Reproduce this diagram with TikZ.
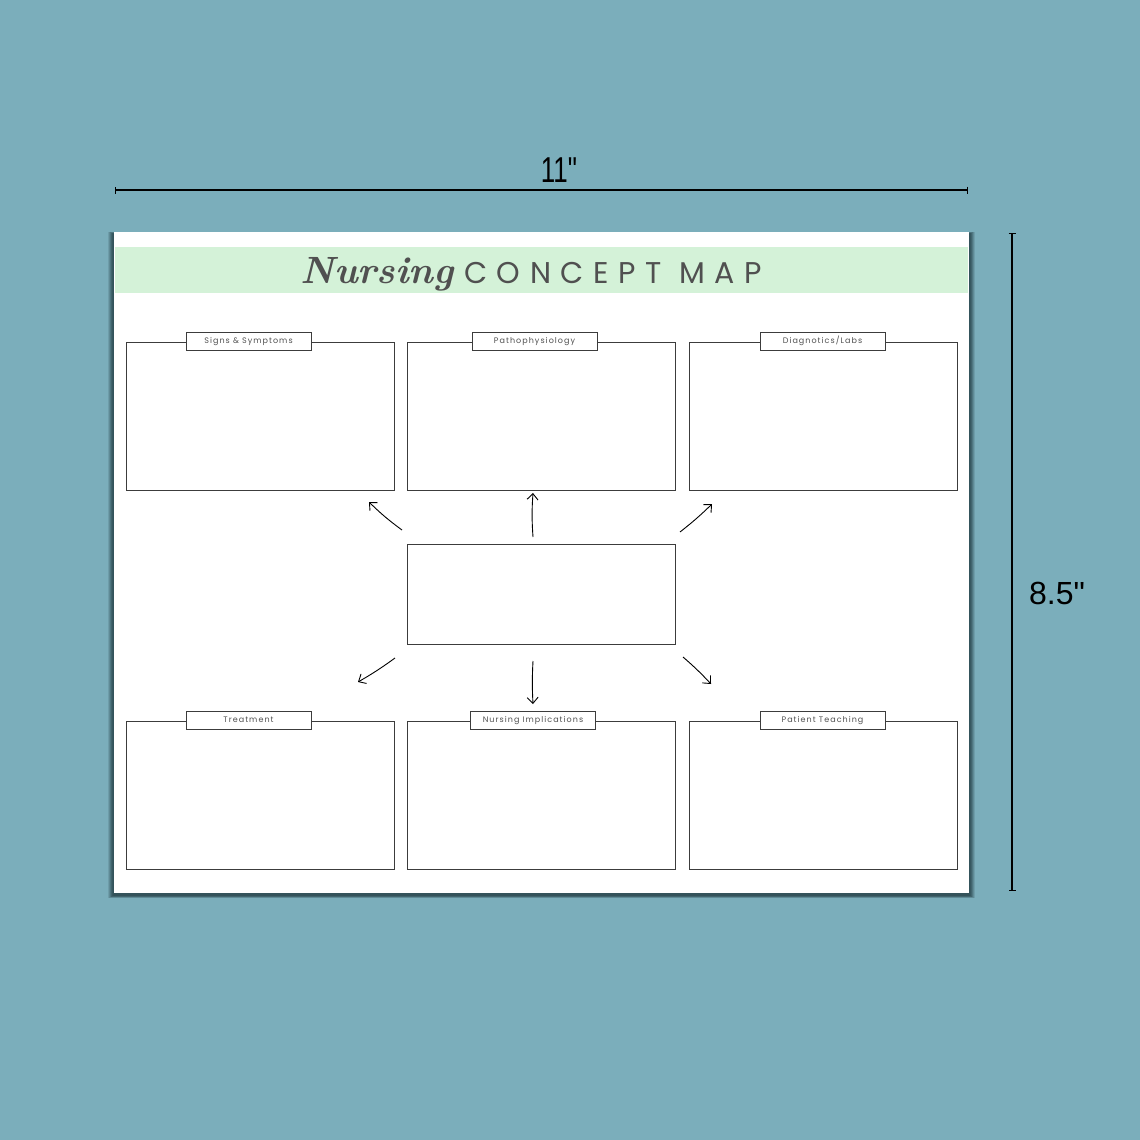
\documentclass[tikz,border=0pt]{standalone}
\usepackage{fontspec}
\usepackage{graphicx}
\usetikzlibrary{arrows.meta}
\setmainfont{Liberation Sans}
\newfontfamily\dimfont[Ligatures=TeXOff]{Liberation Sans}
\newfontfamily\labelfont[LetterSpace=13]{Poppins}
\newfontfamily\capfont[LetterSpace=32]{Poppins}
\newfontfamily\titlescript{Latin Modern Roman}
\definecolor{bgteal}{HTML}{7BAEBB}
\definecolor{band}{HTML}{D4F2D8}
\definecolor{ink}{HTML}{505050}
\definecolor{linegray}{HTML}{3C3C3C}
\definecolor{shadowc}{HTML}{34535B}
\tikzset{
  mapbox/.style={draw=linegray, line width=1pt, fill=white, minimum width=268pt, inner sep=0pt},
  tab/.style={draw=linegray, line width=0.9pt, fill=white, minimum width=125pt, minimum height=18pt, inner sep=0pt, text height=6pt, text depth=1.5pt, text=ink, font=\labelfont\fontsize{8}{9}\selectfont},
  sketch/.style={draw=black, line width=0.9pt, -{Straight Barb[length=6pt,width=11pt]}},
  dim/.style={draw=black, line width=1.1pt, {Bar[width=7pt,line width=1.1pt]}-{Bar[width=7pt,line width=1.1pt]}}
}
\begin{document}
\begin{tikzpicture}[x=1pt,y=-1pt]
\useasboundingbox (0,0) rectangle (1140,1140);
\fill[bgteal] (0,0) rectangle (1140,1140);
% shadow of the sheet
\foreach \e/\o in {6/0.18,5/0.25,4/0.35,3/0.5,2/0.7,1/0.9}{
  \fill[shadowc, opacity=\o] (114-\e,234-\e*0.4) rectangle (969+\e,895+\e*0.5);
}
% sheet
\fill[white] (114,232) rectangle (969,893);
\fill[band] (115,247) rectangle (968,293);
% title
\node[anchor=base west, text=ink, inner sep=0pt, font=\titlescript\bfseries\itshape\fontsize{38}{38}\selectfont] (tn) at (300,283) {Nursing};
\node[anchor=base west, text=ink, inner sep=0pt, font=\capfont\fontsize{30}{30}\selectfont] (tc) at (464,283) {CONCEPT MAP};
% dimension lines
\coordinate (hl) at (115,190);
\coordinate (hr) at (968,190);
\draw[dim] (hl) -- (hr);
\node[font=\dimfont\fontsize{36}{36}\selectfont, text=black, inner sep=0pt] (w) at (559,170) {\scalebox{0.72}[1]{11"}};
\coordinate (vt) at (1012,233);
\coordinate (vb) at (1012,891);
\draw[dim] (vt) -- (vb);
\node[font=\dimfont\fontsize{32}{32}\selectfont, text=black, inner sep=0pt] (h) at (1057,593) {8.5"};
% boxes
\node[mapbox, minimum height=148pt] (b1) at (260,416) {};
\node[mapbox, minimum height=148pt] (b2) at (541,416) {};
\node[mapbox, minimum height=148pt] (b3) at (823,416) {};
\node[mapbox, minimum height=148pt] (b4) at (260,795) {};
\node[mapbox, minimum height=148pt] (b5) at (541,795) {};
\node[mapbox, minimum height=148pt] (b6) at (823,795) {};
\node[mapbox, minimum height=100pt] (c) at (541,594) {};
% tabs
\node[tab] (t1) at (248.5,341) {Signs \& Symptoms};
\node[tab] (t2) at (534.5,341) {Pathophysiology};
\node[tab] (t3) at (822.5,341) {Diagnotics/Labs};
\node[tab] (t4) at (248.5,720) {Treatment};
\node[tab] (t5) at (533,720) {Nursing Implications};
\node[tab] (t6) at (822.5,720) {Patient Teaching};
% arrows
\coordinate (a1s) at (402,530); \coordinate (a1e) at (369,502);
\coordinate (a2s) at (533,537); \coordinate (a2e) at (533,493);
\coordinate (a3s) at (680,532); \coordinate (a3e) at (712,504);
\coordinate (a4s) at (395,658); \coordinate (a4e) at (358,682);
\coordinate (a5s) at (533,661); \coordinate (a5e) at (533,704);
\coordinate (a6s) at (683,657); \coordinate (a6e) at (711,684);
\draw[sketch] (a1s) to[bend left=4] (a1e);
\draw[sketch] (a2s) to[bend left=4] (a2e);
\draw[sketch] (a3s) to[bend right=3] (a3e);
\draw[sketch] (a4s) to[bend left=3] (a4e);
\draw[sketch] (a5s) to[bend right=3] (a5e);
\draw[sketch] (a6s) to[bend left=3] (a6e);
\end{tikzpicture}
\end{document}
